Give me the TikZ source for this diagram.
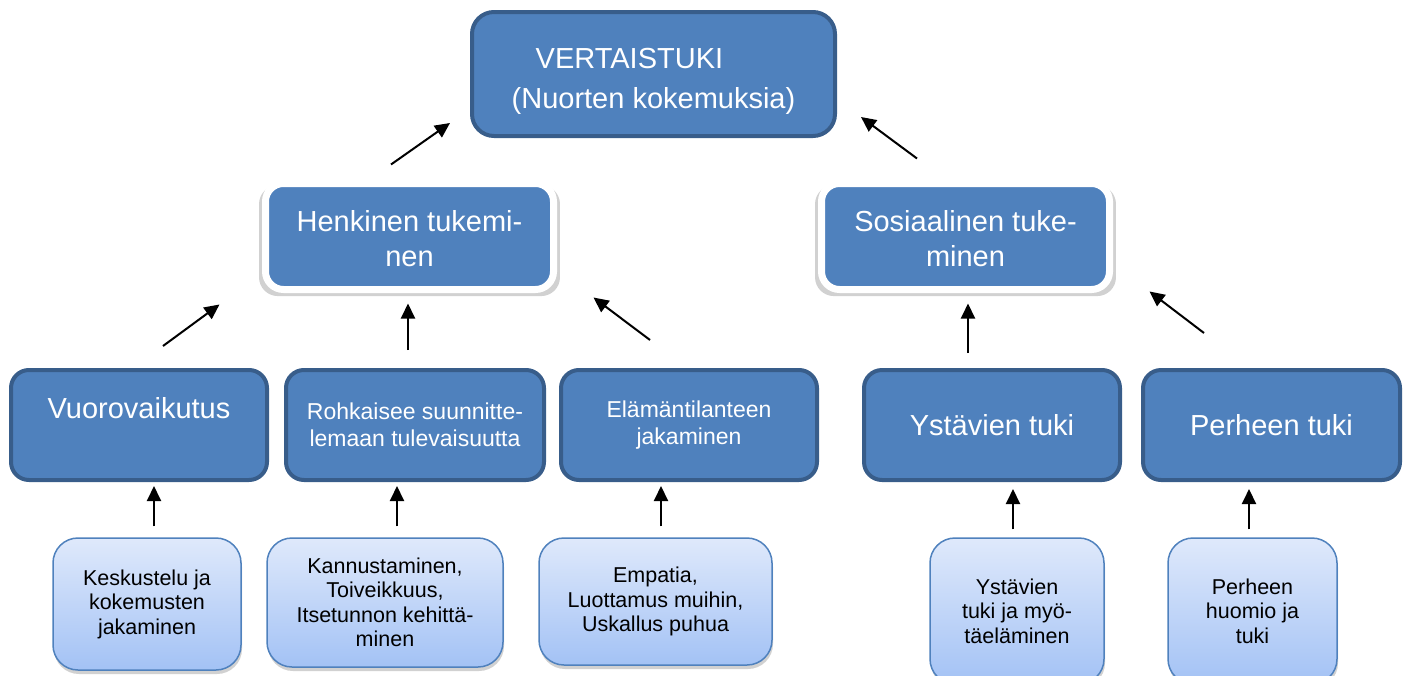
\documentclass[tikz,border=0pt]{standalone}
\usepackage{fontspec}
\setmainfont{Liberation Sans}
\usetikzlibrary{arrows.meta, shadows}
\definecolor{boxblue}{RGB}{79,129,189}
\definecolor{boxedge}{RGB}{56,93,138}
\definecolor{leaftop}{RGB}{223,233,251}
\definecolor{leafbottom}{RGB}{163,194,245}
\tikzset{
  block/.style={
    rectangle,
    rounded corners=18pt,
    fill=boxblue,
    text=white,
    align=center,
    inner sep=0pt
  },
  topblock/.style={block, draw=boxedge, line width=4pt, rounded corners=22pt,
    font=\fontsize{29}{40}\selectfont},
  midblock/.style={block, draw=white, line width=7pt,
    drop shadow={shadow xshift=0pt, shadow yshift=-4pt, shadow scale=1.045, opacity=0.3, fill=black!60},
    font=\fontsize{29}{35}\selectfont},
  lowblock/.style={block, draw=boxedge, line width=4pt,
    font=\fontsize{29}{35}\selectfont},
  smallblock/.style={lowblock, font=\fontsize{23}{27}\selectfont},
  leafblock/.style={block, draw=boxblue, line width=1.5pt, rounded corners=25pt,
    top color=leaftop, bottom color=leafbottom, text=black,
    drop shadow={shadow xshift=1pt, shadow yshift=-4pt, opacity=0.3, fill=black!60},
    font=\fontsize{21.5}{24.5}\selectfont}
}
\tikzstyle{arrow} = [-{Triangle[length=15pt, width=14pt]}, line width=2pt]

\begin{document}
\begin{tikzpicture}[x=1pt, y=-1pt]
    \useasboundingbox (0,0) rectangle (1405,675);
    % top level
    \node[topblock, align=left, minimum width=363pt, minimum height=124pt] (top) at (653.5, 74) {\rule{0pt}{35pt}\hspace*{24pt}VERTAISTUKI\\(Nuorten kokemuksia)};
    % second level
    \node[midblock, minimum width=288pt, minimum height=106pt] (henk) at (409.5, 236.5) {\rule{0pt}{26pt}Henkinen tukemi-\\nen};
    \node[midblock, minimum width=288pt, minimum height=106pt] (sos) at (965.5, 236.5) {\rule{0pt}{26pt}Sosiaalinen tuke-\\minen};
    % third level
    \node[lowblock, minimum width=256pt, minimum height=110pt] (vuoro) at (139, 425) {Vuorovaikutus\\\mbox{}};
    \node[smallblock, minimum width=258pt, minimum height=110pt] (rohk) at (415, 425) {Rohkaisee suunnitte-\\lemaan tulevaisuutta};
    \node[smallblock, minimum width=256pt, minimum height=110pt] (elam) at (689, 425) {Elämäntilanteen\\jakaminen};
    \node[lowblock, minimum width=256pt, minimum height=110pt] (ysta) at (992, 425) {Ystävien tuki};
    \node[lowblock, minimum width=257pt, minimum height=110pt] (perh) at (1271.5, 425) {Perheen tuki};
    % leaves
    \node[leafblock, minimum width=188pt, minimum height=132pt] (kesk) at (147, 604) {Keskustelu ja\\kokemusten\\jakaminen};
    \node[leafblock, minimum width=236pt, minimum height=129pt] (kann) at (385, 602.5) {Kannustaminen,\\Toiveikkuus,\\Itsetunnon kehittä-\\minen};
    \node[leafblock, minimum width=233pt, minimum height=127pt] (empa) at (655.5, 601.5) {Empatia,\\Luottamus muihin,\\Uskallus puhua};
    \node[leafblock, minimum width=174pt, minimum height=146pt] (ystb) at (1017, 611) {Ystävien\\tuki ja myö-\\täeläminen};
    \node[leafblock, minimum width=169pt, minimum height=146pt] (perb) at (1252.5, 611) {Perheen\\huomio ja\\tuki};
    % leaves to third level
    \draw[arrow] ([xshift=7pt, yshift=11pt]kesk.north) -- ([xshift=15pt, yshift=-4pt]vuoro.south);
    \draw[arrow] ([xshift=12pt, yshift=11pt]kann.north) -- ([xshift=-18pt, yshift=-4pt]rohk.south);
    \draw[arrow] ([xshift=5.5pt, yshift=11pt]empa.north) -- ([xshift=-28pt, yshift=-4pt]elam.south);
    \draw[arrow] ([xshift=-4pt, yshift=8pt]ystb.north) -- ([xshift=21pt, yshift=-7pt]ysta.south);
    \draw[arrow] ([xshift=-3.5pt, yshift=8pt]perb.north) -- ([xshift=-22.5pt, yshift=-7pt]perh.south);
    % third level to second level
    \draw[arrow] ([xshift=24pt, yshift=22pt]vuoro.north) -- ([xshift=-42.5pt, yshift=-11.5pt]henk.south west);
    \draw[arrow] ([xshift=-7pt, yshift=18pt]rohk.north) -- ([xshift=-1.5pt, yshift=-10.5pt]henk.south);
    \draw[arrow] ([xshift=-39pt, yshift=28pt]elam.north) -- ([xshift=36.5pt, yshift=-4.5pt]henk.south east);
    \draw[arrow] ([xshift=-24pt, yshift=15pt]ysta.north) -- ([xshift=2.5pt, yshift=-10.5pt]sos.south);
    \draw[arrow] ([xshift=-67.5pt, yshift=35pt]perh.north) -- ([xshift=36.5pt, yshift=1.5pt]sos.south east);
    % second level to top
    \draw[arrow] ([xshift=-18.5pt, yshift=15.5pt]henk.north) -- ([xshift=-20pt, yshift=15pt]top.south west);
    \draw[arrow] ([xshift=-48.5pt, yshift=21.5pt]sos.north) -- ([xshift=24pt, yshift=21pt]top.south east);
\end{tikzpicture}
\end{document}
